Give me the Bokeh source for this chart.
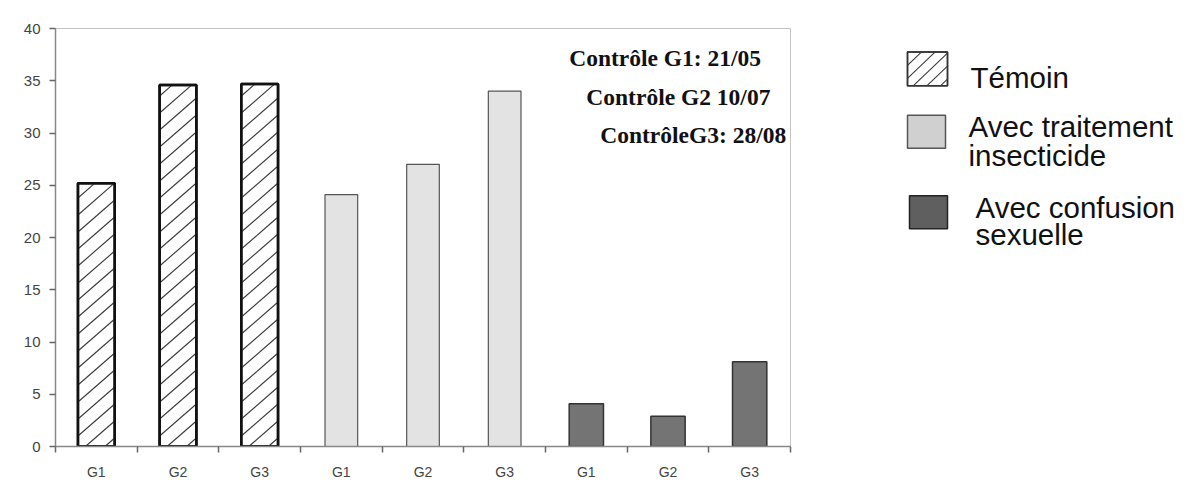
import numpy as np
from bokeh.plotting import figure
from bokeh.models import Range1d, FixedTicker, Label, ColumnDataSource
from bokeh.layouts import row
from bokeh.embed import file_html
from bokeh.resources import INLINE
from bokeh.core.properties import value

# ---------------- data ----------------
groups = ["G1", "G2", "G3"]
series_names = ["Témoin", "Avec traitement\ninsecticide", "Avec confusion\nsexuelle"]
temoin = [25.2, 34.6, 34.7]
insecticide = [24.1, 27.0, 34.0]
confusion = [4.1, 2.9, 8.1]
y_ticks = [0, 5, 10, 15, 20, 25, 30, 35, 40]
notes = ["Contrôle G1: 21/05", "Contrôle G2 10/07", "ContrôleG3: 28/08"]

series = [temoin, insecticide, confusion]
n_groups = len(groups)
n_cat = n_groups * len(series)
tick_labels = groups * len(series)

# ---------------- styles ----------------
FRAME_W, FRAME_H = 735, 418
Y_MAX = 40
bar_styles = [
    dict(width=0.45, fill_color="white", line_color="#111111", line_width=2.5),
    dict(width=0.40, fill_color="#e3e3e3", line_color="#555555", line_width=1.2),
    dict(width=0.42, fill_color="#747474", line_color="#333333", line_width=1.5),
]
hatched = [True, False, False]
legend_box_styles = [
    dict(fill_color="white", line_color="#333333", line_width=1.5),
    dict(fill_color="#d0d0d0", line_color="#555555", line_width=1.5),
    dict(fill_color="#5f5f5f", line_color="#222222", line_width=1.5),
]
HATCH_SLOPE_PX = 0.87     # screen slope of hatch lines
HATCH_STEP_PX = 17.0      # vertical spacing of hatch lines (px)


def hatch_segments(L, R, B, T, m, step):
    """Diagonal '/' lines clipped to the rectangle [L,R]x[B,T] (y upward)."""
    w = R - L
    out = []
    c = B - m * w + step * 0.5
    while c < T:
        xa, ya = L, c
        if ya < B:
            xa, ya = L + (B - c) / m, B
        xb, yb = R, c + m * w
        if yb > T:
            xb, yb = L + (T - c) / m, T
        if xa < xb:
            out.append((xa, ya, xb, yb))
        c += step
    return out


# ---------------- main chart ----------------
p = figure(frame_width=FRAME_W, frame_height=FRAME_H,
           x_range=Range1d(-0.5, n_cat - 0.5), y_range=Range1d(0, Y_MAX),
           output_backend="svg", toolbar_location=None,
           min_border_left=55, min_border_right=18,
           min_border_top=28, min_border_bottom=35)

px_x = FRAME_W / n_cat
px_y = FRAME_H / Y_MAX
m_data = HATCH_SLOPE_PX * px_x / px_y
step_data = HATCH_STEP_PX / px_y

for s, (vals, st, hat) in enumerate(zip(series, bar_styles, hatched)):
    xs = [s * n_groups + j for j in range(n_groups)]
    src = ColumnDataSource(dict(x=xs, top=vals))
    p.vbar(x="x", top="top", bottom=0, source=src, **st)
    if hat:
        segs = []
        half = st["width"] / 2
        for xc, v in zip(xs, vals):
            segs += hatch_segments(xc - half, xc + half, 0, v, m_data, step_data)
        a = np.array(segs)
        p.segment(x0=a[:, 0], y0=a[:, 1], x1=a[:, 2], y1=a[:, 3],
                  line_color="#3a3a3a", line_width=1.1)
        p.vbar(x="x", top="top", bottom=0, source=src, width=st["width"],
               fill_color=None, line_color=st["line_color"], line_width=st["line_width"])

p.xgrid.visible = False
p.ygrid.visible = False
p.outline_line_color = "#c4c4c4"
p.outline_line_width = 1

xa = p.xaxis[0]
xa.ticker = FixedTicker(ticks=list(range(n_cat)),
                        minor_ticks=[i - 0.5 for i in range(n_cat + 1)])
xa.major_label_overrides = {i: lab for i, lab in enumerate(tick_labels)}
xa.major_tick_line_color = None
xa.major_tick_out = 6
xa.major_tick_in = 0
xa.minor_tick_out = 6
xa.minor_tick_in = 0
xa.minor_tick_line_color = "#666666"
xa.minor_tick_line_width = 1.5
xa.axis_line_color = "#888888"
xa.axis_line_width = 1.5
xa.major_label_standoff = 11
xa.major_label_text_font = "Liberation Sans"
xa.major_label_text_font_size = "14px"
xa.major_label_text_color = "#444444"

ya = p.yaxis[0]
ya.ticker = FixedTicker(ticks=y_ticks)
ya.major_tick_out = 6
ya.major_tick_in = 0
ya.major_tick_line_color = "#666666"
ya.major_tick_line_width = 1.5
ya.minor_tick_line_color = None
ya.axis_line_color = "#888888"
ya.axis_line_width = 1.5
ya.major_label_standoff = 9
ya.major_label_text_font = "Liberation Sans"
ya.major_label_text_font_size = "15px"
ya.major_label_text_color = "#444444"

note_pos = [(5.79, 37.2), (6.0, 33.4), (6.17, 29.8)]
for txt, (nx, ny) in zip(notes, note_pos):
    p.add_layout(Label(x=nx, y=ny, text=txt, text_font="Liberation Serif",
                       text_font_style="bold", text_font_size="23.5px",
                       text_baseline="middle", text_align="left",
                       text_color="#111111"))

# ---------------- legend panel ----------------
LG_W, LG_H = 385, 481
lg = figure(width=LG_W, height=LG_H, x_range=Range1d(0, LG_W), y_range=Range1d(LG_H, 0),
            output_backend="svg", toolbar_location=None,
            x_axis_location=None, y_axis_location=None, min_border=0)
lg.xgrid.visible = False
lg.ygrid.visible = False
lg.outline_line_color = None

box_geom = [(99, 139, 27, 66), (99, 137, 100, 138), (101, 139, 193, 231)]
for k, ((l, r, t, b), st) in enumerate(zip(box_geom, legend_box_styles)):
    lg.quad(left=[l], right=[r], top=[t], bottom=[b], **st)
    if hatched[k]:
        segs = hatch_segments(l, r, LG_H - b, LG_H - t, 1.1, 15.0)
        a = np.array(segs)
        lg.segment(x0=a[:, 0], y0=LG_H - a[:, 1], x1=a[:, 2], y1=LG_H - a[:, 3],
                   line_color="#3a3a3a", line_width=1.1)
        lg.quad(left=[l], right=[r], top=[t], bottom=[b], fill_color=None,
                line_color=st["line_color"], line_width=st["line_width"])

text_x = [162, 160, 167]
text_baselines = [[57], [113, 147], [207, 238]]
tx, ty, tt = [], [], []
for name, x0, ys in zip(series_names, text_x, text_baselines):
    for line, y0 in zip(name.split("\n"), ys):
        tx.append(x0)
        ty.append(y0)
        tt.append(line)
lg.text(x=tx, y=ty, text=tt, text_font=value("Liberation Sans"),
        text_font_size=value("29.5px"), text_baseline="alphabetic",
        text_align="left", text_color="#111111")

layout = row(p, lg)
open("out.html", "w").write(file_html(layout, INLINE))
